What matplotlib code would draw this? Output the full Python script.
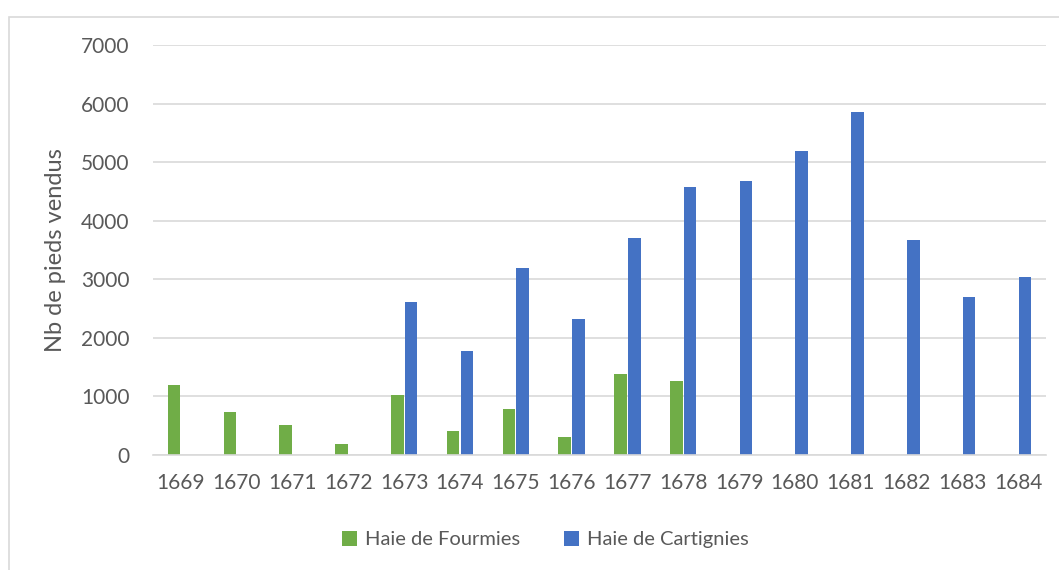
import matplotlib.pyplot as plt
import numpy as np
from matplotlib.patches import Rectangle

years = ['1669', '1670', '1671', '1672', '1673', '1674', '1675', '1676',
         '1677', '1678', '1679', '1680', '1681', '1682', '1683', '1684']
fourmies = [1190, 730, 520, 190, 1030, 410, 790, 310, 1390, 1270,
            0, 0, 0, 0, 0, 0]
cartignies = [0, 0, 0, 0, 2610, 1780, 3190, 2330, 3710, 4580,
              4670, 5190, 5850, 3670, 2700, 3040]

plt.rcParams['font.family'] = ['Lato', 'DejaVu Sans']
grey = '#595959'

fig = plt.figure(figsize=(10.59, 5.70), dpi=100)
ax = fig.add_axes([0.1445, 0.2018, 0.8432, 0.7193])

# chart area border
fig.patches.append(Rectangle((9 / 1059, -0.1), 1.2, 1.1 - 17 / 570,
                             transform=fig.transFigure, fill=False,
                             edgecolor='#D9D9D9', linewidth=1.2))

x = np.arange(len(years))
width = 0.225
ax.bar(x - width / 2 - 0.01, fourmies, width, color='#70AD47',
       label='Haie de Fourmies')
ax.bar(x + width / 2 + 0.01, cartignies, width, color='#4472C4',
       label='Haie de Cartignies')

ax.set_xlim(-0.5, len(years) - 0.5)
ax.set_ylim(0, 7000)
ax.set_yticks(range(0, 7001, 1000))
ax.set_xticks(x)
ax.set_xticklabels(years)
ax.yaxis.grid(True, color='#D9D9D9', linewidth=1.2)
ax.set_axisbelow(True)
for s in ['top', 'right', 'left']:
    ax.spines[s].set_visible(False)
ax.spines['bottom'].set_color('#D9D9D9')
ax.spines['bottom'].set_linewidth(1.2)
ax.tick_params(axis='y', length=0, pad=17, labelsize=15, labelcolor=grey)
ax.tick_params(axis='x', length=0, pad=13, labelsize=15, labelcolor=grey)

ax.set_ylabel('Nb de pieds vendus', fontsize=17, color=grey, labelpad=11)

fig.legend(loc='center', bbox_to_anchor=(0.515, 0.053), ncol=2, frameon=False,
           fontsize=14.5, labelcolor=grey, handlelength=0.75, handleheight=0.75,
           handletextpad=0.4, columnspacing=2.2)

fig.savefig('out.png', dpi=100)
